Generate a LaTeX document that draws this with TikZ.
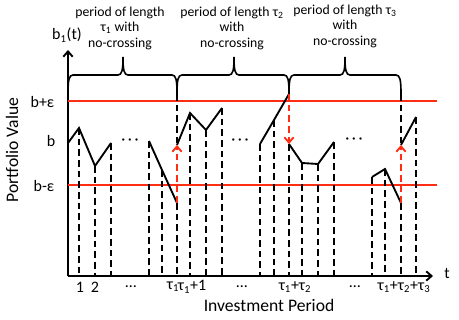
\documentclass[tikz,border=0pt]{standalone}
\usepackage{fontspec}
\setmainfont{Carlito}
\usepackage{xcolor}
\usetikzlibrary{arrows.meta, positioning, calc}
\definecolor{levelred}{RGB}{255,45,20}

\begin{document}
\begin{tikzpicture}[
    x=0.75pt, y=-0.75pt,
    axis/.style={line width=1.4pt, -{Straight Barb[length=4pt,width=7pt]}},
    curve/.style={line width=1.4pt, line join=miter},
    guide/.style={line width=1.4pt, dash pattern=on 5pt off 3pt},
    level/.style={levelred, line width=1.4pt},
    jump/.style={levelred, line width=1.4pt, dash pattern=on 5pt off 3pt, -{Straight Barb[length=4pt,width=7pt]}},
    brace/.style={line width=1.2pt},
    period/.style={align=center, font=\fontsize{10.3}{11.6}\selectfont},
    tick/.style={font=\fontsize{12}{14}\selectfont},
    lbl/.style={font=\fontsize{12}{14}\selectfont},
    title/.style={font=\fontsize{13.2}{15}\selectfont}
]
    \useasboundingbox (0,0) rectangle (459,320);

    % axes
    \coordinate (O) at (68,276);
    \coordinate (ytip) at (68,50);
    \coordinate (xtip) at (433,276);
    \draw [axis] (O) -- (ytip);
    \draw [axis] (O) -- (xtip);
    \node [lbl] (ylab) at (67,35) {b\textsubscript{1}(t)};
    \node [lbl] (tlab) at (447,273) {t};
    \node [title, rotate=90] (yname) at (12,150) {Portfolio Value};
    \node [title] (xname) at (269,305) {Investment Period};

    % threshold levels
    \coordinate (hi) at (68,101);
    \coordinate (lo) at (68,185);
    \draw [level] (hi) -- (437,101);
    \draw [level] (lo) -- (437,185);
    \node [lbl, anchor=east] (bhi) at (59,102) {b+ε};
    \node [lbl, anchor=east] (bmid) at (60,141) {b};
    \node [lbl, anchor=east] (blo) at (59,186) {b-ε};

    % value path points
    \foreach \n/\x/\y in {s0/68/143, a1/79/128, a2/95/166, a3/111/143,
                          b1/149/141, b2/162/170, j1/177/203,
                          r1/177/145, c1/190/113, c2/206/130, c3/222/108,
                          d1/260/144, d2/274/120, j2/289/94,
                          r2/289/144, e1/302/163, e2/318/164, e3/334/142,
                          f1/372/177, f2/385/169, j3/401/203,
                          r3/401/145, g1/416/117}
        \coordinate (\n) at (\x,\y);

    \draw [curve] (s0) -- (a1) -- (a2) -- (a3);
    \draw [curve] (b1) -- (b2) -- (j1);
    \draw [curve] (r1) -- (c1) -- (c2) -- (c3);
    \draw [curve] (d1) -- (d2) -- (j2);
    \draw [curve] (r2) -- (e1) -- (e2) -- (e3);
    \draw [curve] (f1) -- (f2) -- (j3);
    \draw [curve] (r3) -- (g1);

    % dashed drop lines to the time axis
    \foreach \n in {a1, a2, a3, b1, b2, j1, c1, c2, c3, d1, d2, r2, e1, e2, e3, f1, f2, j3, g1}
        \draw [guide] (\n) -- (\n |- O);
    \draw [guide] (177,94) -- (r1);
    \draw [guide] (401,94) -- (r3);

    % jumps back to b
    \draw [jump] (j1) -- (r1);
    \draw [jump] (j2) -- (r2);
    \draw [jump] (j3) -- (r3);

    \node [lbl] (dots1) at (130,142) {·\,·\,·};
    \node [lbl] (dots2) at (240,142) {·\,·\,·};
    \node [lbl] (dots3) at (354,141) {·\,·\,·};

    % braces over the periods
    \foreach \xa/\xm/\xb in {68/123/177, 177/234/289, 289/345/401}
        \draw [brace] (\xa,94) .. controls (\xa,80) and (\xa+1,75) .. (\xa+5,75)
            -- (\xm-5,75) .. controls (\xm-1,75) and (\xm,70) .. (\xm,57)
            .. controls (\xm,70) and (\xm+1,75) .. (\xm+5,75)
            -- (\xb-5,75) .. controls (\xb-1,75) and (\xb,80) .. (\xb,94);

    \node [period] (per1) at (120,28) {period of length\\τ\textsubscript{1} with\\no-crossing};
    \node [period] (per2) at (232,28) {period of length τ\textsubscript{2}\\with\\no-crossing};
    \node [period] (per3) at (345,26) {period of length τ\textsubscript{3}\\with\\no-crossing};

    % tick labels
    \node [tick] (t1) at (80,287) {1};
    \node [tick] (t2) at (95,287) {2};
    \node [tick] (tdots1) at (131,287) {…};
    \node [tick] (ttau1) at (173,287) {τ\textsubscript{1}};
    \node [tick] (ttau1p) at (192,287) {τ\textsubscript{1}+1};
    \node [tick] (tdots2) at (242,287) {…};
    \node [tick] (ttau12) at (295,287) {τ\textsubscript{1}+τ\textsubscript{2}};
    \node [tick] (tdots3) at (355,287) {…};
    \node [tick] (ttau123) at (404,287) {τ\textsubscript{1}+τ\textsubscript{2}+τ\textsubscript{3}};
\end{tikzpicture}
\end{document}
